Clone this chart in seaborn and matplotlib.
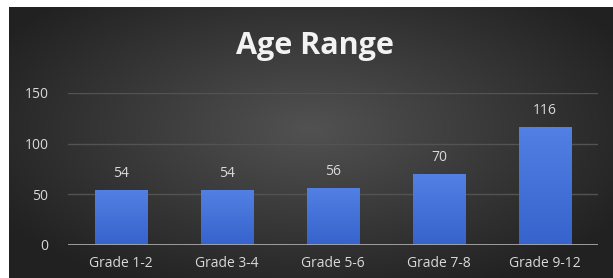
import numpy as np
import pandas as pd
import matplotlib
matplotlib.use("Agg")
import matplotlib.pyplot as plt
import seaborn as sns

categories = ["Grade 1-2", "Grade 3-4", "Grade 5-6", "Grade 7-8", "Grade 9-12"]
values = [54, 54, 56, 70, 116]
yticks = [0, 50, 100, 150]
title = "Age Range"

sns.set_theme(style="dark")
plt.rcParams['font.family'] = ['Open Sans', 'DejaVu Sans']

W, H = 613, 278
fig = plt.figure(figsize=(W / 100, H / 100), dpi=100)
fig.patch.set_facecolor("white")

# dark radial gradient background
bg = fig.add_axes([9 / W, 0, 1 - 9 / W, 1 - 7 / H])
bg.set_axis_off()
gx, gy = np.meshgrid(np.linspace(-1, 1, 400), np.linspace(-1, 1, 200))
r = np.sqrt((gx / 1.0) ** 2 + ((gy + 0.1) / 1.1) ** 2)
r = np.clip(r, 0, 1.2)
val = 0.32 - 0.19 * (r / 1.2)
img = np.dstack([val, val, val])
bg.imshow(img, aspect="auto", extent=[0, 1, 0, 1])
bg.set_xlim(0, 1)
bg.set_ylim(0, 1)

ax = fig.add_axes([68 / W, (H - 245) / H, 530 / W, 152 / H])
ax.patch.set_alpha(0)
df = pd.DataFrame({"grade": categories, "count": values})
sns.barplot(data=df, x="grade", y="count", color="#4472d8", width=0.5,
            saturation=1, linewidth=0, edgecolor="none", ax=ax, zorder=3)

# vertical gradient on bars
for p in ax.patches:
    x0, y0 = p.get_x(), p.get_y()
    w, h = p.get_width(), p.get_height()
    grad = np.linspace(0, 1, 100).reshape(-1, 1)
    top = np.array([0.32, 0.50, 0.89])
    bot = np.array([0.21, 0.39, 0.80])
    cols = bot + (top - bot) * grad
    im = ax.imshow(cols.reshape(100, 1, 3), extent=[x0, x0 + w, y0, y0 + h],
                   origin="lower", aspect="auto", zorder=4)
    im.set_clip_path(p)

ax.set_xlim(-0.5, len(categories) - 0.5)
ax.set_ylim(0, 150)
ax.set_yticks(yticks)
ax.yaxis.grid(True, color="#535353", linewidth=1.0, zorder=0)
ax.xaxis.grid(False)
for s in ax.spines.values():
    s.set_visible(False)
ax.axhline(0, color="#a6a6a6", linewidth=1.3, zorder=5)
ax.set_xlabel("")
ax.set_ylabel("")
ax.tick_params(axis="both", colors="#d9d9d9", labelsize=10, length=0)
ax.tick_params(axis="y", pad=14)
ax.tick_params(axis="x", pad=8)

for i, v in enumerate(values):
    ax.text(i, v + 9, str(v), ha="center", va="bottom", color="#d9d9d9",
            fontsize=10)

fig.text(0.514, 1 - 46 / H, title, ha="center", va="center", color="#f2f2f2",
         fontsize=22, fontweight="bold")

fig.savefig("out.png", dpi=100)
